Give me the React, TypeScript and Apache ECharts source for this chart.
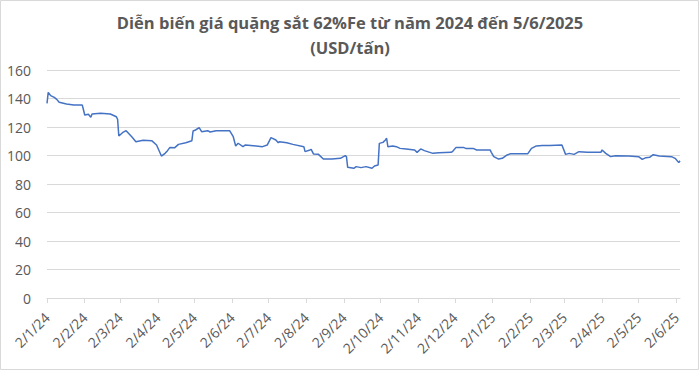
import React, { useEffect, useRef } from "react";
import * as echarts from "echarts";

const TITLE = "Diễn biến giá quặng sắt 62%Fe từ năm 2024 đến 5/6/2025\n(USD/tấn)";

const dates: string[] = [
  "2024-01-02", "2024-01-03", "2024-01-05", "2024-01-08", "2024-01-10", "2024-01-12", "2024-01-18", "2024-01-24",
  "2024-01-31", "2024-02-01", "2024-02-02", "2024-02-05", "2024-02-07", "2024-02-08", "2024-02-15", "2024-02-23",
  "2024-02-28", "2024-02-29", "2024-03-01", "2024-03-04", "2024-03-07", "2024-03-12", "2024-03-15", "2024-03-21",
  "2024-03-28", "2024-04-01", "2024-04-05", "2024-04-08", "2024-04-10", "2024-04-12", "2024-04-16", "2024-04-19",
  "2024-04-25", "2024-04-30", "2024-05-01", "2024-05-03", "2024-05-06", "2024-05-08", "2024-05-13", "2024-05-15",
  "2024-05-20", "2024-05-31", "2024-06-03", "2024-06-05", "2024-06-07", "2024-06-11", "2024-06-13", "2024-06-27",
  "2024-07-01", "2024-07-04", "2024-07-08", "2024-07-10", "2024-07-11", "2024-07-17", "2024-07-22", "2024-07-31",
  "2024-08-01", "2024-08-05", "2024-08-06", "2024-08-08", "2024-08-12", "2024-08-16", "2024-08-23", "2024-08-30",
  "2024-09-03", "2024-09-04", "2024-09-05", "2024-09-10", "2024-09-12", "2024-09-16", "2024-09-20", "2024-09-25",
  "2024-09-27", "2024-09-30", "2024-10-01", "2024-10-04", "2024-10-06", "2024-10-07", "2024-10-08", "2024-10-12",
  "2024-10-15", "2024-10-18", "2024-10-23", "2024-10-30", "2024-11-01", "2024-11-04", "2024-11-07", "2024-11-14",
  "2024-11-19", "2024-11-29", "2024-11-30", "2024-12-03", "2024-12-09", "2024-12-11", "2024-12-17", "2024-12-20",
  "2024-12-31", "2025-01-01", "2025-01-03", "2025-01-07", "2025-01-10", "2025-01-14", "2025-01-17", "2025-01-31",
  "2025-02-03", "2025-02-07", "2025-02-12", "2025-02-18", "2025-02-28", "2025-03-03", "2025-03-06", "2025-03-10",
  "2025-03-14", "2025-03-21", "2025-04-01", "2025-04-02", "2025-04-05", "2025-04-09", "2025-04-13", "2025-04-24",
  "2025-05-02", "2025-05-05", "2025-05-08", "2025-05-11", "2025-05-14", "2025-05-19", "2025-05-29", "2025-06-01",
  "2025-06-04", "2025-06-05",
];

const prices: number[] = [
  136.6, 144.3, 142.0, 140.8, 139.4, 137.3, 136.1, 135.4,
  135.4, 131.9, 128.4, 128.9, 126.8, 129.1, 129.6, 129.1,
  127.2, 125.4, 113.7, 116.0, 117.4, 112.8, 109.7, 110.7,
  110.4, 107.4, 99.6, 101.5, 103.4, 105.7, 105.5, 107.8,
  109.0, 110.4, 117.2, 117.9, 119.5, 116.7, 117.4, 116.5,
  117.4, 117.4, 113.2, 106.7, 108.6, 106.2, 107.4, 106.2,
  107.4, 112.5, 110.9, 109.0, 109.7, 109.0, 107.8, 106.2,
  102.7, 103.9, 104.3, 101.0, 100.8, 97.5, 97.5, 98.0,
  99.9, 99.2, 91.7, 91.0, 92.2, 91.5, 92.2, 91.0,
  92.6, 93.3, 108.5, 109.2, 110.9, 112.1, 106.2, 106.7,
  106.2, 105.0, 104.6, 103.9, 102.2, 104.6, 103.4, 101.5,
  102.0, 102.2, 102.7, 105.7, 105.7, 105.0, 105.0, 103.9,
  103.9, 102.2, 99.2, 97.5, 98.0, 100.4, 101.3, 101.3,
  105.0, 106.7, 107.1, 107.1, 107.4, 100.8, 101.5, 100.8,
  102.7, 102.2, 102.2, 103.9, 101.5, 99.2, 99.9, 99.6,
  99.2, 97.3, 98.5, 98.7, 100.6, 99.6, 99.2, 98.0,
  95.0, 96.3,
];

// tick dates: 2nd of each month, Jan 2024 .. Jun 2025 (shown as d/m/yy)
const tickLabels: string[] = [
  "2/1/24", "2/2/24", "2/3/24", "2/4/24", "2/5/24", "2/6/24", "2/7/24", "2/8/24", "2/9/24",
  "2/10/24", "2/11/24", "2/12/24", "2/1/25", "2/2/25", "2/3/25", "2/4/25", "2/5/25", "2/6/25",
];

const xRange = { min: "2024-01-02", max: "2025-06-05" };
const yTicks = { min: 0, max: 160, interval: 20 };

const isoToTime = (s: string) => {
  const [y, m, d] = s.split("-").map(Number);
  return new Date(y, m - 1, d).getTime();
};
const labelToTime = (s: string) => {
  const [d, m, yy] = s.split("/").map(Number);
  return new Date(2000 + yy, m - 1, d).getTime();
};

export default function App() {
  const ref = useRef<HTMLDivElement>(null);

  useEffect(() => {
    if (!ref.current) return;
    const chart = echarts.init(ref.current, null, { renderer: "svg" });
    const tickValues = tickLabels.map(labelToTime);
    const fmt = (v: number) => {
      const d = new Date(v);
      return `${d.getDate()}/${d.getMonth() + 1}/${String(d.getFullYear()).slice(2)}`;
    };
    const font = "'Open Sans', 'Noto Sans', sans-serif";
    chart.setOption({
      animation: false,
      backgroundColor: "#ffffff",
      title: {
        text: TITLE,
        left: "center",
        top: 5,
        textStyle: {
          fontFamily: font,
          fontSize: 16.5,
          fontWeight: "bold",
          color: "#595959",
          lineHeight: 25,
        },
      },
      graphic: [
        {
          type: "rect",
          shape: { x: 0.5, y: 0.5, width: 698, height: 369 },
          style: { fill: "none", stroke: "#d9d9d9", lineWidth: 1 },
          silent: true,
        },
      ],
      grid: { left: 47, right: 20, top: 70, bottom: 73, containLabel: false },
      xAxis: {
        type: "value",
        min: isoToTime(xRange.min),
        max: isoToTime(xRange.max),
        axisLine: { show: true, onZero: false, lineStyle: { color: "#d9d9d9", width: 1 } },
        axisTick: {
          show: true,
          customValues: tickValues,
          length: 5,
          lineStyle: { color: "#d9d9d9" },
        },
        axisLabel: {
          customValues: tickValues,
          formatter: (v: number) => fmt(v),
          rotate: 45,
          fontFamily: font,
          fontSize: 14,
          color: "#595959",
          margin: 17,
          hideOverlap: false,
        },
        splitLine: { show: false },
      },
      yAxis: {
        type: "value",
        min: yTicks.min,
        max: yTicks.max,
        interval: yTicks.interval,
        axisLine: { show: false },
        axisTick: { show: false },
        axisLabel: {
          fontFamily: font,
          fontSize: 14,
          color: "#595959",
          margin: 16,
        },
        splitLine: { lineStyle: { color: "#d9d9d9", width: 1 } },
      },
      series: [
        {
          type: "line",
          data: dates.map((d, i) => [isoToTime(d), prices[i]]),
          showSymbol: false,
          symbol: "none",
          lineStyle: { color: "#4472C4", width: 1.5 },
          itemStyle: { color: "#4472C4" },
        },
      ],
    });
    return () => chart.dispose();
  }, []);

  return (
    <div
      ref={ref}
      style={{ position: "fixed", left: 0, top: 0, width: 700, height: 371 }}
    />
  );
}
